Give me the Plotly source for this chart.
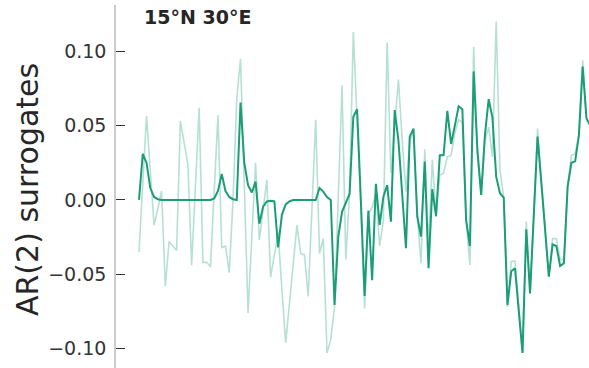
import plotly.graph_objects as go

# time index (months)
t = list(range(121))

# light series: raw AR(2) surrogate
raw = [-0.035, 0.011, 0.0565, 0.02, -0.017, -0.006, 0.006, -0.058, -0.028, -0.031,
       -0.034, 0.053, 0.038, 0.024, -0.044, 0.009, 0.062, -0.042, -0.042, -0.045,
       0.006, 0.057, -0.032, -0.031, -0.049, 0.0, 0.068, 0.095, 0.01, -0.076,
       -0.025, 0.025, -0.027, -0.007, 0.0135, -0.052, -0.037, -0.022, -0.06, -0.096,
       -0.07, -0.043, -0.017, -0.036, -0.037, -0.065, -0.005, 0.054, -0.036, -0.026,
       -0.103, -0.094, -0.072, 0.0, 0.077, -0.040, 0.005, 0.113, 0.058, -0.005,
       -0.073, -0.01, -0.005, 0.005, -0.031, -0.0135, 0.106, 0.018, 0.05, 0.081,
       0.04, 0.0056, 0.04, 0.045, -0.01, -0.0426, 0.034, -0.03, 0.027, -0.01,
       0.0168, 0.018, 0.029, 0.030, 0.045, 0.054, 0.052, -0.0135, -0.0437, 0.103,
       0.03, 0.003, 0.04, 0.049, 0.029, 0.12, 0.02, 0.002, -0.072, -0.0415,
       -0.041, -0.075, -0.103, -0.0146, -0.063, -0.01, 0.048, 0.012, -0.02, -0.0516,
       -0.026, -0.026, -0.040, -0.040, 0.009, 0.030, 0.031, 0.0437, 0.094, 0.055,
       0.050]

# dark series: filtered surrogate
filt = [0.0, 0.031, 0.025, 0.008, 0.002, 0.0005, 0, 0, 0, 0,
        0, 0, 0, 0, 0, 0, 0, 0, 0, 0,
        0.001, 0.006, 0.0175, 0.006, 0.002, 0.0005, 0.0, 0.0655, 0.025, 0.01,
        0.005, 0.0123, -0.016, -0.0045, -0.001, -0.0005, -0.001, -0.032, -0.01, -0.003,
        -0.001, 0, 0, 0, 0, 0, 0, 0.0, 0.008, 0.0056,
        0.002, 0.0, -0.0706, -0.0247, -0.008, -0.002, 0.004, 0.056, 0.061, 0.0,
        -0.0646, -0.0072, -0.054, 0.0108, -0.0168, 0.0022, 0.010, -0.0146, 0.0605, 0.040,
        0.004, -0.0325, 0.0426, 0.048, -0.011, -0.0247, 0.0258, -0.046, 0.0073, -0.011,
        0.030, 0.030, 0.060, 0.0377, 0.050, 0.063, 0.061, -0.0135, -0.031, 0.0865,
        0.0337, 0.0034, 0.0437, 0.0678, 0.0554, 0.0157, 0.0045, 0.0015, -0.0707, -0.048,
        -0.046, -0.075, -0.103, -0.0197, -0.063, -0.01, 0.0426, 0.012, -0.02, -0.0516,
        -0.030, -0.031, -0.0444, -0.0426, 0.009, 0.025, 0.026, 0.0437, 0.0897, 0.055,
        0.050]

tick_vals = [0.10, 0.05, 0.0, -0.05, -0.10]
tick_text = ["0.10", "0.05", "0.00", "\u22120.05", "\u22120.10"]

W, H = 589, 368
L, T = 116, 5
PW, PH = W - L, H - T


def px(xp):
    return (xp - L) / PW


def py(yp):
    return (H - yp) / PH


fig = go.Figure()
fig.add_trace(go.Scatter(x=t, y=raw, mode="lines",
                         line=dict(color="rgba(27,158,119,0.32)", width=1.6),
                         hoverinfo="skip", showlegend=False))
fig.add_trace(go.Scatter(x=t, y=filt, mode="lines",
                         line=dict(color="#1b9e77", width=2),
                         hoverinfo="skip", showlegend=False))

fig.update_layout(
    width=W, height=H,
    margin=dict(l=L, r=0, t=T, b=0),
    paper_bgcolor="white", plot_bgcolor="white",
    font=dict(family="DejaVu Sans", color="#262626"),
    xaxis=dict(range=[-6.12, 119.68], visible=False, showgrid=False, zeroline=False),
    yaxis=dict(range=[-0.1131, 0.1312], tickvals=tick_vals, ticktext=tick_text,
               showgrid=False, zeroline=False, showline=True, linecolor="#cccccc",
               linewidth=1.5, ticks="inside", ticklen=9, tickwidth=1.3,
               tickcolor="#333333", tickfont=dict(size=19, color="#333333"),
               ticklabelstandoff=4),
    annotations=[
        dict(text="<b>15°N 30°E</b>", x=px(142), y=py(17), xref="paper", yref="paper",
             xanchor="left", yanchor="middle", showarrow=False,
             font=dict(size=19, color="#262626")),
        dict(text="AR(2) surrogates", x=px(28), y=py(190), xref="paper", yref="paper",
             xanchor="center", yanchor="middle", showarrow=False, textangle=-90,
             font=dict(size=30, color="#262626")),
    ],
)

fig.write_html("out.html")
